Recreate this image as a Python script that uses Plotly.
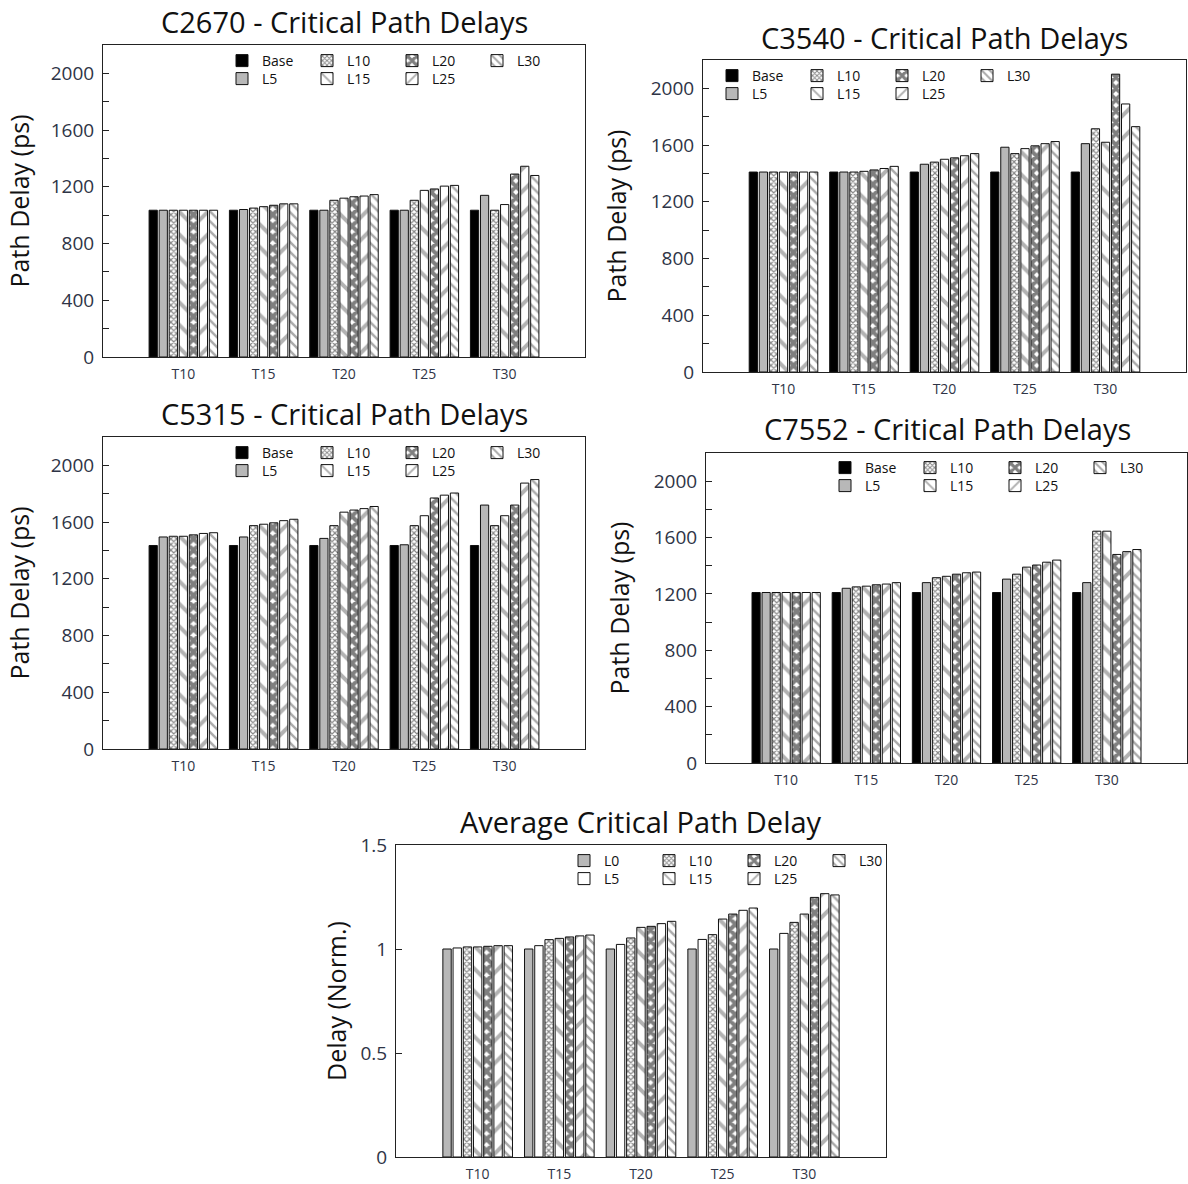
import plotly.graph_objects as go

# Temperature/threshold categories on the x axis
categories = ["T10", "T15", "T20", "T25", "T30"]

# Series names for the per-circuit panels and the averaged panel
series_circuit = ["Base", "L5", "L10", "L15", "L20", "L25", "L30"]
series_average = ["L0", "L5", "L10", "L15", "L20", "L25", "L30"]

# Critical path delays (ps), one row per series
c2670 = [
    [1035, 1035, 1035, 1035, 1035],
    [1035, 1040, 1035, 1035, 1140],
    [1035, 1050, 1105, 1105, 1035],
    [1035, 1060, 1120, 1175, 1075],
    [1035, 1070, 1130, 1185, 1290],
    [1035, 1080, 1135, 1205, 1345],
    [1035, 1080, 1145, 1210, 1280],
]
c3540 = [
    [1410, 1410, 1410, 1410, 1410],
    [1410, 1410, 1465, 1585, 1610],
    [1410, 1410, 1480, 1540, 1715],
    [1410, 1415, 1500, 1575, 1620],
    [1410, 1425, 1510, 1595, 2100],
    [1410, 1435, 1525, 1610, 1890],
    [1410, 1450, 1540, 1625, 1730],
]
c5315 = [
    [1435, 1435, 1435, 1435, 1435],
    [1495, 1495, 1485, 1440, 1720],
    [1500, 1575, 1575, 1575, 1575],
    [1500, 1585, 1670, 1645, 1645],
    [1510, 1595, 1685, 1770, 1720],
    [1520, 1610, 1695, 1790, 1875],
    [1525, 1620, 1710, 1805, 1900],
]
c7552 = [
    [1210, 1210, 1210, 1210, 1210],
    [1210, 1240, 1280, 1305, 1280],
    [1210, 1250, 1315, 1340, 1645],
    [1210, 1255, 1325, 1390, 1645],
    [1210, 1265, 1340, 1405, 1480],
    [1210, 1270, 1350, 1425, 1500],
    [1210, 1280, 1355, 1440, 1515],
]
# Normalised average delay
average = [
    [1.000, 1.000, 1.000, 1.000, 1.000],
    [1.005, 1.016, 1.022, 1.046, 1.075],
    [1.010, 1.045, 1.053, 1.069, 1.128],
    [1.010, 1.051, 1.104, 1.144, 1.168],
    [1.013, 1.058, 1.109, 1.168, 1.248],
    [1.016, 1.063, 1.122, 1.186, 1.266],
    [1.016, 1.067, 1.133, 1.197, 1.260],
]

W, H = 1188, 1184
FONT = "Open Sans"
TICK_COLOR = "#2e3446"

# Fill styles (gnuplot-like patterns) for the seven bars of each group
styles_circuit = [
    dict(color="#000000"),
    dict(color="#b8b8b8"),
    dict(color="white", pattern=dict(shape="x", size=4, solidity=0.5, fgcolor="#111111", bgcolor="white")),
    dict(color="white", pattern=dict(shape="\\", size=16, solidity=0.25, fgcolor="#666666", bgcolor="white")),
    dict(color="white", pattern=dict(shape="x", size=8, solidity=0.75, fgcolor="#000000", bgcolor="white")),
    dict(color="white", pattern=dict(shape="/", size=16, solidity=0.25, fgcolor="#666666", bgcolor="white")),
    dict(color="white", pattern=dict(shape="\\", size=7, solidity=0.35, fgcolor="#555555", bgcolor="white")),
]
styles_average = [dict(color="#b8b8b8"), dict(color="white")] + styles_circuit[2:]


def px_x(x):
    return x / W


def px_y(y):
    return 1 - y / H


# Panel geometry in pixels: (left, right, top, bottom)
panels = [
    dict(title="C2670 - Critical Path Delays", data=c2670, names=series_circuit, styles=styles_circuit,
         box=(103, 585, 45, 357), yrange=[0, 2200], dtick=400, minor=200, ytitle="Path Delay (ps)",
         standoff=13, title_xy=(344, 22), leg_x=222, leg_y=61),
    dict(title="C3540 - Critical Path Delays", data=c3540, names=series_circuit, styles=styles_circuit,
         box=(703, 1186, 60, 372), yrange=[0, 2200], dtick=400, minor=200, ytitle="Path Delay (ps)",
         standoff=16, title_xy=(944, 37), leg_x=712, leg_y=76),
    dict(title="C5315 - Critical Path Delays", data=c5315, names=series_circuit, styles=styles_circuit,
         box=(103, 585, 437, 749), yrange=[0, 2200], dtick=400, minor=200, ytitle="Path Delay (ps)",
         standoff=13, title_xy=(344, 413), leg_x=222, leg_y=453),
    dict(title="C7552 - Critical Path Delays", data=c7552, names=series_circuit, styles=styles_circuit,
         box=(706, 1187, 453, 763), yrange=[0, 2200], dtick=400, minor=200, ytitle="Path Delay (ps)",
         standoff=16, title_xy=(947, 428), leg_x=825, leg_y=468),
    dict(title="Average Critical Path Delay", data=average, names=series_average, styles=styles_average,
         box=(396, 886, 845, 1157), yrange=[0, 1.5], dtick=0.5, minor=None, ytitle="Delay (Norm.)",
         standoff=6, title_xy=(641, 821), leg_x=564, leg_y=861),
]

fig = go.Figure()
layout = dict(
    width=W, height=H,
    margin=dict(l=0, r=0, t=0, b=0, autoexpand=False),
    paper_bgcolor="white", plot_bgcolor="white",
    font=dict(family=FONT, color="#111111"),
    barmode="group", bargap=0.125, bargroupgap=0.18,
    annotations=[],
)

# Rows of each key: first row and second row (column-major order)
row1_idx = [0, 2, 4, 6]
row2_idx = [1, 3, 5]

legend_counter = 1
for p_i, p in enumerate(panels):
    sfx = "" if p_i == 0 else str(p_i + 1)
    xref = "x" + sfx
    yref = "y" + sfx
    l, r, t, b = p["box"]

    leg_a = "legend" if legend_counter == 1 else f"legend{legend_counter}"
    leg_b = f"legend{legend_counter + 1}"
    legend_counter += 2

    for s_i, (name, vals) in enumerate(zip(p["names"], p["data"])):
        st = p["styles"][s_i]
        marker = dict(color=st["color"], line=dict(color="#111111", width=1))
        if "pattern" in st:
            marker["pattern"] = st["pattern"]
        fig.add_trace(go.Bar(
            x=list(range(len(categories))), y=vals, name=name,
            xaxis=xref, yaxis=yref, marker=marker,
            legend=leg_a if s_i in row1_idx else leg_b,
            offsetgroup=str(s_i),
        ))

    for leg_id, cy in ((leg_a, p["leg_y"]), (leg_b, p["leg_y"] + 18)):
        layout[leg_id] = dict(
            x=px_x(p["leg_x"]), y=px_y(cy), xanchor="left", yanchor="middle",
            orientation="h", entrywidth=40, entrywidthmode="pixels",
            bgcolor="rgba(0,0,0,0)", font=dict(family=FONT, size=14, color="#111111"),
            itemwidth=30, tracegroupgap=0,
        )

    ax_x = "xaxis" + sfx
    ax_y = "yaxis" + sfx
    layout[ax_x] = dict(
        domain=[px_x(l), px_x(r)], anchor=yref,
        range=[-1, 5], tickmode="array", tickvals=list(range(len(categories))), ticktext=categories,
        showline=True, mirror=True, linecolor="#222222", linewidth=1,
        ticks="", showgrid=False, zeroline=False,
        tickfont=dict(family=FONT, size=14, color=TICK_COLOR), ticklabelstandoff=4,
    )
    yax = dict(
        domain=[px_y(b), px_y(t)], anchor=xref,
        range=p["yrange"], dtick=p["dtick"], tick0=0,
        showline=True, mirror=True, linecolor="#222222", linewidth=1,
        ticks="inside", ticklen=6, tickcolor="#222222",
        showgrid=False, zeroline=False,
        tickfont=dict(family=FONT, size=19, color=TICK_COLOR), ticklabelstandoff=4,
        title=dict(text=p["ytitle"], font=dict(family=FONT, size=25, color="#111111"), standoff=p["standoff"]),
    )
    if p["minor"]:
        yax["minor"] = dict(dtick=p["minor"], ticks="inside", ticklen=6, tickcolor="#222222", showgrid=False)
    layout[ax_y] = yax

    tx, ty = p["title_xy"]
    layout["annotations"].append(dict(
        text=p["title"], x=px_x(tx), y=px_y(ty), xref="paper", yref="paper",
        xanchor="center", yanchor="middle", showarrow=False,
        font=dict(family=FONT, size=29, color="#111111"),
    ))

fig.update_layout(**layout)
fig.write_html("out.html")
